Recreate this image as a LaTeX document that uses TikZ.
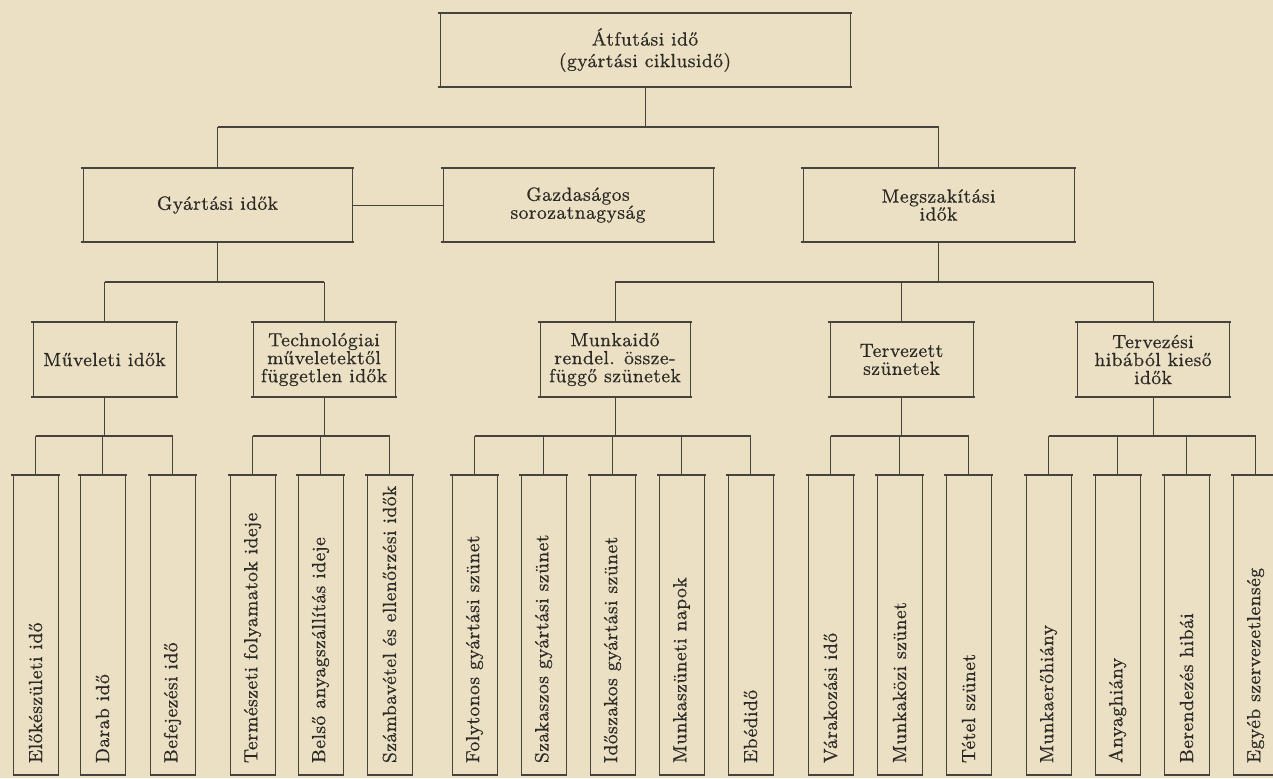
\documentclass[tikz,border=0pt]{standalone}
\usepackage{fontspec}
\setmainfont{Latin Modern Roman}[LetterSpace=2.5,FakeBold=0.6]
\definecolor{paper}{RGB}{235,224,196}
\definecolor{ink}{RGB}{45,42,38}
\definecolor{rule}{RGB}{70,67,60}
\begin{document}
\begin{tikzpicture}[x=0.5pt,y=-0.5pt,
  nbox/.style={draw=rule, line width=0.4pt, inner sep=0pt, align=center, text=ink,
    font=\fontsize{9.5pt}{9pt}\selectfont},
  leaf/.style={draw=rule, line width=0.4pt, rotate=90, minimum width=150pt,
    minimum height=22.5pt, inner sep=0pt},
  leaftext/.style={rotate=90, anchor=west, inner sep=0pt, text=ink,
    font=\fontsize{9.5pt}{9pt}\selectfont},
  wire/.style={draw=rule, line width=0.45pt},
  busline/.style={draw=rule, line width=0.65pt},
  rimline/.style={draw=rule, line width=1.0pt}]
\fill[paper] (0,0) rectangle (1273,778);
\useasboundingbox (0,0) rectangle (1273,778);
\clip (0,0) rectangle (1273,778);

% top
\node[nbox, minimum width=205pt, minimum height=37pt,
  font=\fontsize{9.5pt}{10.8pt}\selectfont] (top) at (645,50) {Átfutási idő\\(gyártási ciklusidő)};
% row 2
\node[nbox, minimum width=134.5pt, minimum height=37pt] (gy) at (217.5,205) {Gyártási idők};
\node[nbox, minimum width=135pt, minimum height=37pt] (gz) at (578,205) {Gazdaságos\\sorozatnagyság};
\node[nbox, minimum width=135.5pt, minimum height=37pt] (mg) at (938.5,205) {Megszakítási\\idők};
% row 3
\node[nbox, minimum width=71.5pt, minimum height=37.5pt] (mu) at (104.5,359.5) {Műveleti idők};
\node[nbox, minimum width=71pt, minimum height=37.5pt] (te) at (324,359.5) {Technológiai\\műveletektől\\független idők};
\node[nbox, minimum width=75pt, minimum height=37.5pt] (mk) at (615,359.5) {Munkaidő\\rendel. össze-\\függő szünetek};
\node[nbox, minimum width=71.5pt, minimum height=37.5pt] (tv) at (901.5,359.5) {Tervezett\\szünetek};
\node[nbox, minimum width=76pt, minimum height=37.5pt] (th) at (1153,359.5) {Tervezési\\hibából kieső\\idők};
% leaves
\foreach \i/\cx/\t in {
  1/35.5/Előkészületi idő,
  2/102.5/Darab idő,
  3/172.5/Befejezési idő,
  4/252.5/Természeti folyamatok ideje,
  5/320.5/Belső anyagszállítás ideje,
  6/389.5/Számbavétel és ellenőrzési idők,
  7/474.5/Folytonos gyártási szünet,
  8/543.5/Szakaszos gyártási szünet,
  9/612.5/Időszakos gyártási szünet,
  10/681.5/Munkaszüneti napok,
  11/750.5/Ebédidő,
  12/830.5/Várakozási idő,
  13/899.5/Munkaközi szünet,
  14/968.5/Tétel szünet,
  15/1048.5/Munkaerőhiány,
  16/1117.5/Anyaghiány,
  17/1186.5/Berendezés hibái,
  18/1255.5/Egyéb szervezetlenség}
  {\node[leaf] (l\i) at (\cx,625) {};
   \node[leaftext] (t\i) at ([yshift=6pt]l\i.west) {\t};}

% thick top/bottom rims
\foreach \n in {top,gy,gz,mg,mu,te,mk,tv,th}{
  \draw[rimline] ([xshift=-1pt]\n.north west) -- ([xshift=1pt]\n.north east);
  \draw[rimline] ([xshift=-1pt]\n.south west) -- ([xshift=1pt]\n.south east);
}
\foreach \i in {1,...,18}{
  \draw[rimline] ([xshift=-0.8pt]l\i.north east) -- ([xshift=0.8pt]l\i.south east);
  \draw[rimline] (l\i.north west) -- (l\i.south west);
}

% bus levels
\coordinate (r1) at (0,127);
\coordinate (r2) at (0,282);
\coordinate (r3) at (0,436);

% level 1
\draw[wire] (top.south) -- (top.south |- r1);
\draw[busline] (gy.north |- r1) -- (mg.north |- r1);
\draw[wire] (gy.north) -- (gy.north |- r1);
\draw[wire] (mg.north) -- (mg.north |- r1);
\draw[wire] (gy.east) -- (gz.west);

% level 2
\draw[wire] (gy.south) -- (gy.south |- r2);
\draw[busline] (mu.north |- r2) -- (te.north |- r2);
\foreach \n in {mu,te}{\draw[wire] (\n.north) -- (\n.north |- r2);}
\draw[wire] (mg.south) -- (mg.south |- r2);
\draw[busline] (mk.north |- r2) -- (th.north |- r2);
\foreach \n in {mk,tv,th}{\draw[wire] (\n.north) -- (\n.north |- r2);}

% level 3
\foreach \p/\a/\b in {mu/1/3, te/4/6, mk/7/11, tv/12/14, th/15/18}{
  \draw[wire] (\p.south) -- (\p.south |- r3);
  \draw[busline] (l\a.east |- r3) -- (l\b.east |- r3);
}
\foreach \i in {1,...,18}{\draw[wire] (l\i.east) -- (l\i.east |- r3);}
\end{tikzpicture}
\end{document}
